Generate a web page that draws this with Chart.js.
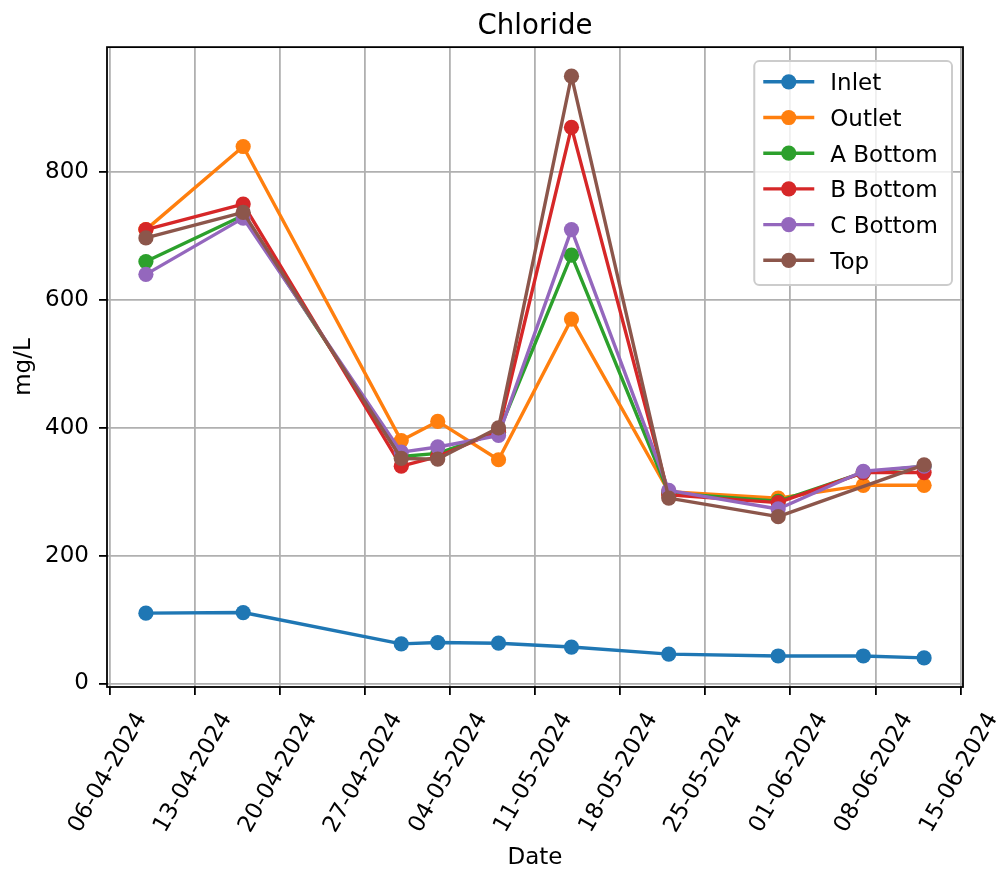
<!DOCTYPE html>
<html>
<head>
<meta charset="utf-8">
<title>Chloride</title>
<script src="https://cdn.jsdelivr.net/npm/chart.js@4.4.1/dist/chart.umd.min.js"></script>
<style>
  html, body { margin: 0; padding: 0; background: #fff; }
  canvas { display: block; }
</style>
</head>
<body>
<canvas id="chart" width="1005" height="875"></canvas>
<script>
// Sampling dates (DD-MM-YYYY) and chloride readings in mg/L
const sampleDates = ['09-04-2024', '17-04-2024', '30-04-2024', '03-05-2024', '08-05-2024',
                     '14-05-2024', '22-05-2024', '31-05-2024', '07-06-2024', '12-06-2024'];
const inlet   = [110, 111, 62, 64, 63, 57, 46, 43, 43, 40];
const outlet  = [710, 840, 380, 410, 350, 570, 300, 290, 310, 310];
const aBottom = [660, 732, 355, 360, 393, 670, 298, 285, 330, 340];
const bBottom = [710, 750, 340, 355, 395, 870, 295, 283, 330, 330];
const cBottom = [640, 728, 362, 370, 388, 710, 302, 273, 332, 340];
const topLayer = [697, 737, 352, 351, 400, 950, 290, 261, null, 342]; // no Top sample on 07-06

const seriesNames  = ['Inlet', 'Outlet', 'A Bottom', 'B Bottom', 'C Bottom', 'Top'];
const seriesValues = [inlet, outlet, aBottom, bBottom, cBottom, topLayer];
const seriesColors = ['#1f77b4', '#ff7f0e', '#2ca02c', '#d62728', '#9467bd', '#8c564b'];

// Axis ticks
const xTickLabels = ['06-04-2024', '13-04-2024', '20-04-2024', '27-04-2024', '04-05-2024', '11-05-2024',
                     '18-05-2024', '25-05-2024', '01-06-2024', '08-06-2024', '15-06-2024'];
const yTicks = [0, 200, 400, 600, 800];

const DAY_MS = 86400000;
function toDay(s) {
  const [d, m, y] = s.split('-').map(Number);
  return Date.UTC(y, m - 1, d) / DAY_MS;
}
function fmtDay(v) {
  const dt = new Date(Math.round(v) * DAY_MS);
  const p = n => String(n).padStart(2, '0');
  return p(dt.getUTCDate()) + '-' + p(dt.getUTCMonth() + 1) + '-' + dt.getUTCFullYear();
}

// 5% margins around the data, like the usual auto-scaled axes
const xs = sampleDates.map(toDay);
const xSpan = xs[xs.length - 1] - xs[0];
const xMin = xs[0] - 0.05 * xSpan, xMax = xs[xs.length - 1] + 0.05 * xSpan;
const allVals = seriesValues.flat().filter(v => v !== null);
const vLo = Math.min(...allVals), vHi = Math.max(...allVals);
const yMin = vLo - 0.05 * (vHi - vLo), yMax = vHi + 0.05 * (vHi - vLo);

const FONT = "'DejaVu Sans', 'Liberation Sans', sans-serif";
Chart.defaults.font.family = FONT;
Chart.defaults.color = '#000';

const datasets = seriesNames.map((name, i) => ({
  label: name,
  data: sampleDates.map((d, j) => ({ x: toDay(d), y: seriesValues[i][j] })),
  borderColor: seriesColors[i],
  backgroundColor: seriesColors[i],
  pointBackgroundColor: seriesColors[i],
  pointBorderColor: seriesColors[i],
  pointBorderWidth: 0,
  pointRadius: 7.6,
  borderWidth: 3.4,
  borderJoinStyle: 'round',
  tension: 0,
  spanGaps: true,
  order: seriesNames.length - 1 - i   // later series drawn on top
}));

// Black frame around the plotting area
const frame = {
  id: 'frame',
  afterDatasetsDraw(chart) {
    const { ctx, chartArea: a } = chart;
    ctx.save();
    ctx.strokeStyle = '#000';
    ctx.lineWidth = 1.8;
    ctx.strokeRect(a.left, a.top, a.right - a.left, a.bottom - a.top);
    ctx.restore();
  }
};

// Legend box inside the upper-right corner of the plot
const insetLegend = {
  id: 'insetLegend',
  afterDraw(chart) {
    const { ctx, chartArea: a } = chart;
    const ds = chart.data.datasets;
    const fs = 23;
    ctx.save();
    ctx.font = fs + 'px ' + FONT;
    const textW = Math.max(...ds.map(d => ctx.measureText(d.label).width));
    const rowH = 35.7;
    const w = 76 + textW + 14;
    const h = 224;
    const right = a.right - 11;
    const left = right - w;
    const topY = a.top + 14;
    ctx.beginPath();
    ctx.roundRect(left, topY, w, h, 5);
    ctx.fillStyle = 'rgba(255,255,255,0.8)';
    ctx.fill();
    ctx.strokeStyle = '#cccccc';
    ctx.lineWidth = 2;
    ctx.stroke();
    ds.forEach((d, i) => {
      const cy = topY + 20.7 + i * rowH;
      ctx.strokeStyle = d.borderColor;
      ctx.lineWidth = d.borderWidth;
      ctx.beginPath();
      ctx.moveTo(left + 9, cy);
      ctx.lineTo(left + 60, cy);
      ctx.stroke();
      ctx.fillStyle = d.pointBackgroundColor;
      ctx.beginPath();
      ctx.arc(left + 34.5, cy, d.pointRadius, 0, Math.PI * 2);
      ctx.fill();
      ctx.fillStyle = '#000';
      ctx.textAlign = 'left';
      ctx.textBaseline = 'alphabetic';
      ctx.fillText(d.label, left + 76, cy + 8.4);
    });
    ctx.restore();
  }
};

const gridOpts = {
  color: '#b0b0b0',
  lineWidth: 1.8,
  tickColor: '#000',
  tickWidth: 1.8,
  tickLength: 8
};

new Chart(document.getElementById('chart'), {
  type: 'line',
  data: { datasets },
  options: {
    responsive: false,
    animation: false,
    devicePixelRatio: 1,
    events: [],
    layout: { padding: { left: 0, right: 42, top: 0, bottom: 0 } },
    plugins: {
      legend: { display: false },
      tooltip: { enabled: false },
      title: {
        display: true,
        fullSize: false,
        text: 'Chloride',
        color: '#000',
        font: { size: 27.6, weight: 'normal' },
        padding: { top: 10, bottom: 4 }
      }
    },
    scales: {
      x: {
        type: 'linear',
        min: xMin,
        max: xMax,
        afterBuildTicks: s => { s.ticks = xTickLabels.map(l => ({ value: toDay(l) })); },
        afterFit: s => { s.height = 188; },
        ticks: {
          autoSkip: false,
          minRotation: 60,
          maxRotation: 60,
          labelOffset: 32,
          padding: 13,
          color: '#000',
          font: { size: 23 },
          callback: v => fmtDay(v)
        },
        grid: gridOpts,
        border: { display: false },
        title: { display: true, text: 'Date', color: '#000', font: { size: 23 }, padding: { top: 0, bottom: 3 } }
      },
      y: {
        type: 'linear',
        min: yMin,
        max: yMax,
        afterBuildTicks: s => { s.ticks = yTicks.map(v => ({ value: v })); },
        afterFit: s => { s.width = 107; },
        ticks: { padding: 10, color: '#000', font: { size: 23 }, callback: v => String(v) },
        grid: gridOpts,
        border: { display: false },
        title: { display: true, text: 'mg/L', color: '#000', font: { size: 23 }, padding: { top: 10, bottom: 0 } }
      }
    }
  },
  plugins: [frame, insetLegend]
});
</script>
</body>
</html>
